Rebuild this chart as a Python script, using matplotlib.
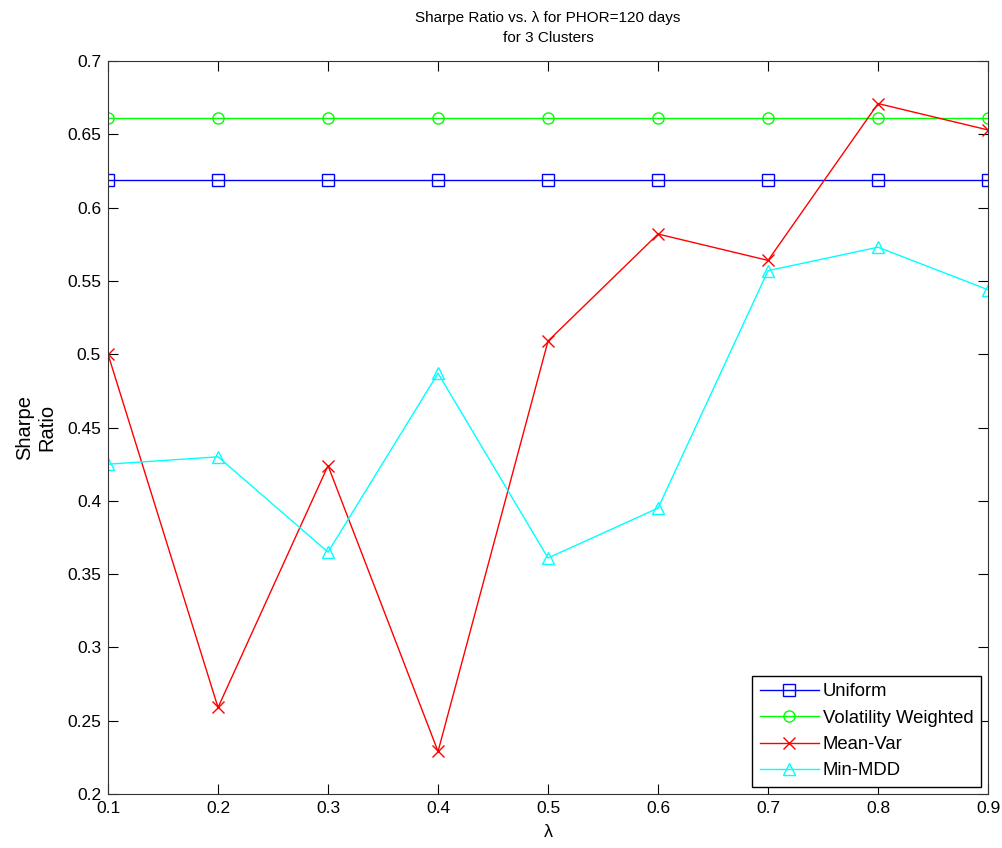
import matplotlib
matplotlib.use('Agg')
import matplotlib.pyplot as plt
from matplotlib.ticker import FuncFormatter

plt.rcParams['font.family'] = ['Liberation Sans', 'DejaVu Sans']

lam = [0.1, 0.2, 0.3, 0.4, 0.5, 0.6, 0.7, 0.8, 0.9]
uniform = [0.619] * 9
vol_weighted = [0.661] * 9
mean_var = [0.500, 0.259, 0.424, 0.229, 0.509, 0.582, 0.564, 0.671, 0.653]
min_mdd = [0.425, 0.430, 0.365, 0.487, 0.361, 0.395, 0.557, 0.573, 0.544]

fig = plt.figure(figsize=(10.03, 8.48), dpi=100)
ax = fig.add_axes([0.1077, 0.0637, 0.8774, 0.8643])

ax.plot(lam, uniform, color='#0000ff', marker='s', mfc='none', ms=8, lw=1, label='Uniform')
ax.plot(lam, vol_weighted, color='#00ff00', marker='o', mfc='none', ms=8, lw=1, label='Volatility Weighted')
ax.plot(lam, mean_var, color='#ff0000', marker='x', ms=9, lw=1, label='Mean-Var')
ax.plot(lam, min_mdd, color='#00ffff', marker='^', mfc='none', ms=8, lw=1, label='Min-MDD')

ax.set_xlim(0.1, 0.9)
ax.set_ylim(0.2, 0.7)
ax.set_xticks(lam)
ax.set_yticks([0.2, 0.25, 0.3, 0.35, 0.4, 0.45, 0.5, 0.55, 0.6, 0.65, 0.7])
fmt = FuncFormatter(lambda v, p: '%g' % round(v, 2))
ax.xaxis.set_major_formatter(fmt)
ax.yaxis.set_major_formatter(fmt)
ax.tick_params(direction='in', top=True, right=True, length=7, labelsize=12.5, pad=5)
for s in ax.spines.values():
    s.set_color('#333333')

ax.set_title('Sharpe Ratio vs. \u03bb for PHOR=120 days\nfor 3 Clusters', fontsize=11,
             pad=14, linespacing=1.5)
ax.set_xlabel('\u03bb', fontsize=13, labelpad=6)
ax.set_ylabel('Sharpe\nRatio', fontsize=14.5, labelpad=8)

leg = ax.legend(loc='lower right', fontsize=13.3, handlelength=3.2, fancybox=False,
                edgecolor='black', framealpha=1, borderaxespad=0.4, labelspacing=0.5,
                handletextpad=0.2, borderpad=0.4)
leg.get_frame().set_linewidth(1)

fig.savefig('out.png', dpi=100)
